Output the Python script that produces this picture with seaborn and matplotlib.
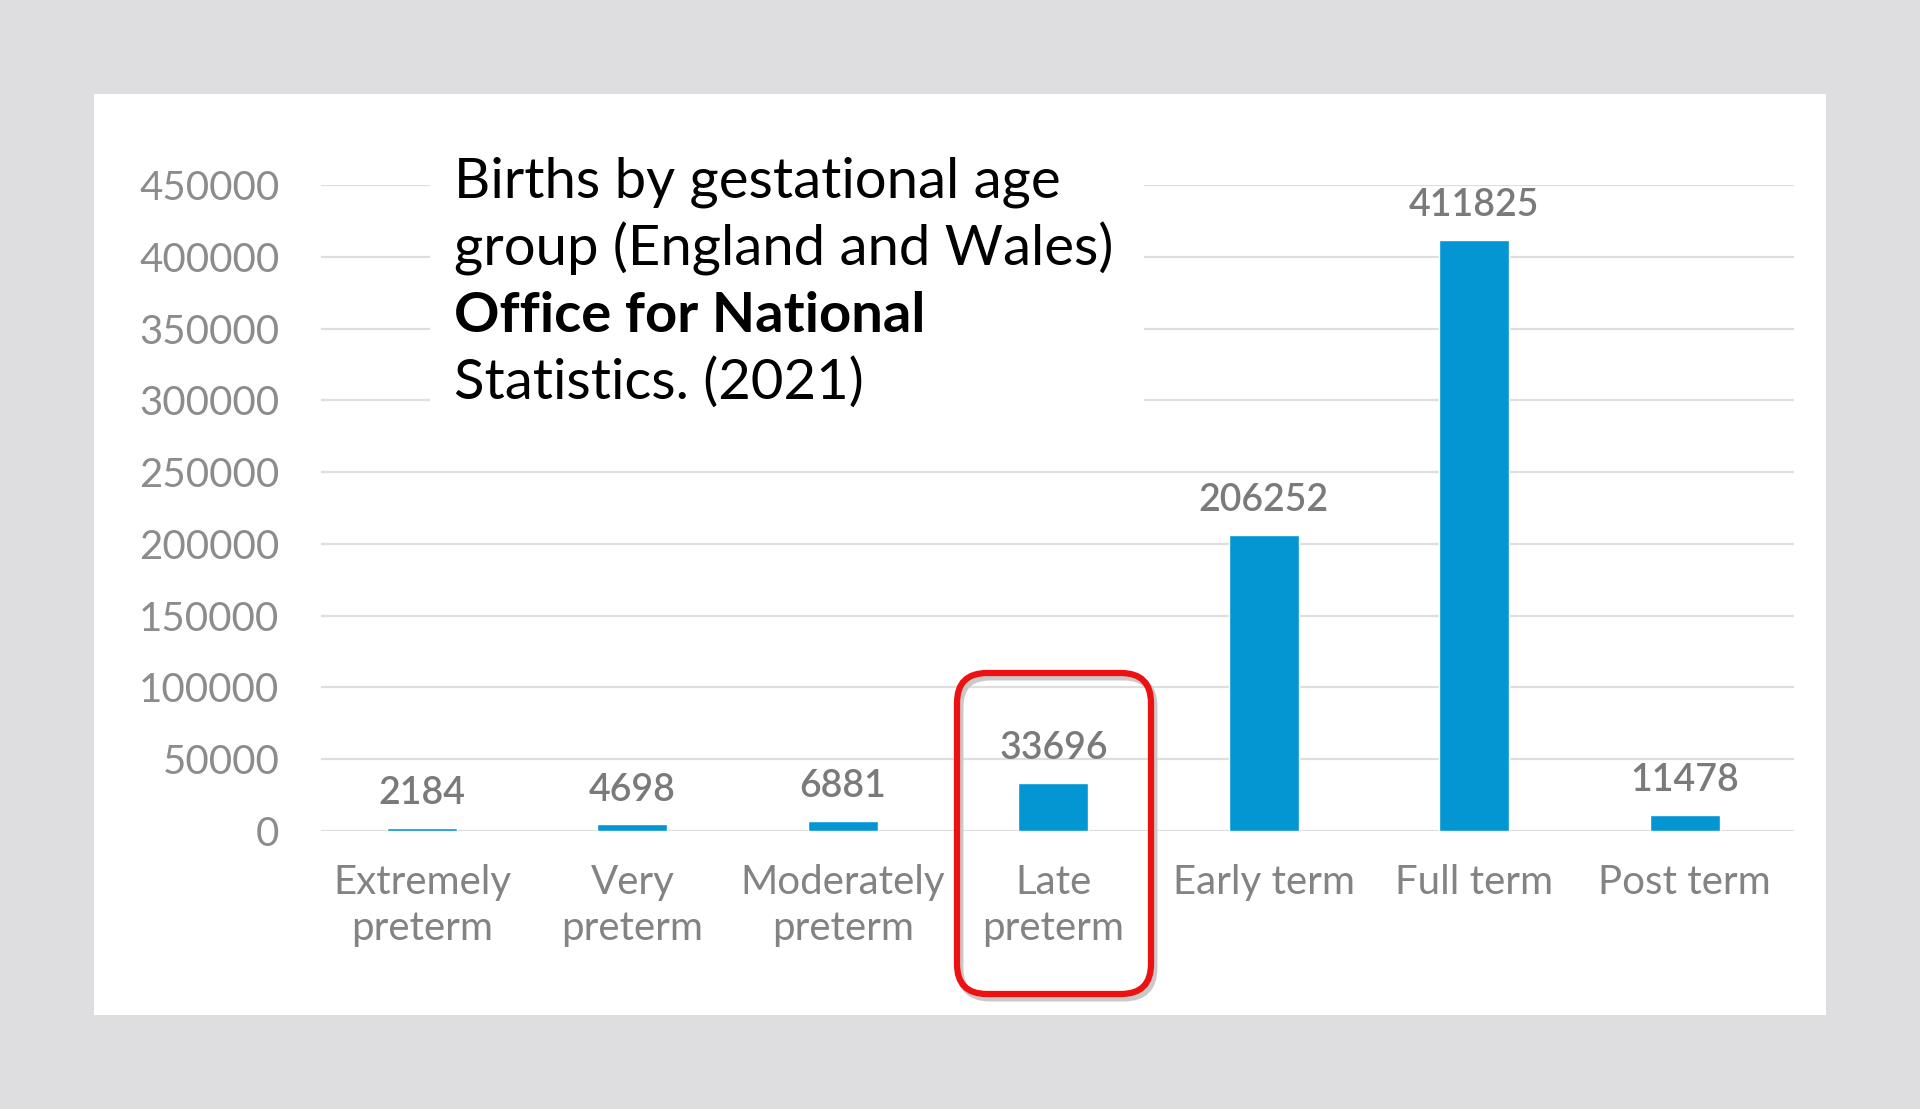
import pandas as pd
import seaborn as sns
import matplotlib.pyplot as plt
from matplotlib.patches import Rectangle, FancyBboxPatch

groups = ['Extremely\npreterm', 'Very\npreterm', 'Moderately\npreterm', 'Late\npreterm',
          'Early term', 'Full term', 'Post term']
births = [2184, 4698, 6881, 33696, 206252, 411825, 11478]
y_ticks = [0, 50000, 100000, 150000, 200000, 250000, 300000, 350000, 400000, 450000]
title_lines = ['Births by gestational age', 'group (England and Wales)',
               'Office for National', 'Statistics. (2021)']

df = pd.DataFrame({'group': groups, 'births': births})

sns.set_style('white')
plt.rcParams['font.family'] = ['Lato', 'DejaVu Sans']

fig = plt.figure(figsize=(19.2, 11.09), dpi=100, facecolor='#dedee0')

# white card behind the chart
fig.add_artist(Rectangle((94 / 1920, 1 - 1015 / 1109), 1732 / 1920, 921 / 1109,
                         transform=fig.transFigure, facecolor='white', edgecolor='none', zorder=-1))

ax = fig.add_axes([321 / 1920, 1 - 831 / 1109, 1473 / 1920, 646 / 1109])
ax.set_facecolor('none')

sns.barplot(df, x='group', y='births', color='#0396d3', saturation=1, width=0.333, ax=ax)

ax.set_xlim(-0.48, 6.52)
ax.set_ylim(0, 450000)
ax.set_yticks(y_ticks)
ax.set_yticklabels([str(t) for t in y_ticks])
ax.grid(axis='y', color='#dedede', linewidth=1.6)
ax.set_axisbelow(True)
sns.despine(ax=ax, left=True, bottom=True)

ax.tick_params(axis='y', length=0, pad=30, labelsize=29, labelcolor='#8c8c8c')
ax.tick_params(axis='x', length=0, pad=24, labelsize=29, labelcolor='#838383')
for lab in ax.get_xticklabels():
    lab.set_linespacing(1.3)

ax.set_xlabel(None)
ax.set_ylabel(None)

ax.bar_label(ax.containers[0], labels=[str(v) for v in births], padding=12,
             fontsize=27, color='#7a7a7a', fontweight='semibold')

# title block on white so the grid lines stop behind it
fig.add_artist(Rectangle((430 / 1920, 1 - 420 / 1109), 714 / 1920, 275 / 1109,
                         transform=fig.transFigure, facecolor='white', edgecolor='none', zorder=1))
for i, line in enumerate(title_lines):
    fig.text(454 / 1920, 1 - (198 + 67 * i) / 1109, line, fontsize=40.5, color='black',
             va='baseline', ha='left', fontweight='bold' if i == 2 else 'normal', zorder=2)

# red highlight around Late preterm
box = dict(boxstyle='round,pad=0,rounding_size=0.3', transform=fig.dpi_scale_trans, fill=False)
fig.add_artist(FancyBboxPatch((9.60, 1.11), 1.94, 3.21, edgecolor='#c9c9c9', linewidth=5, zorder=4, **box))
fig.add_artist(FancyBboxPatch((9.57, 1.15), 1.94, 3.21, edgecolor='#ee1111', linewidth=4.5, zorder=5, **box))

fig.savefig('out.png', dpi=100, facecolor=fig.get_facecolor())
